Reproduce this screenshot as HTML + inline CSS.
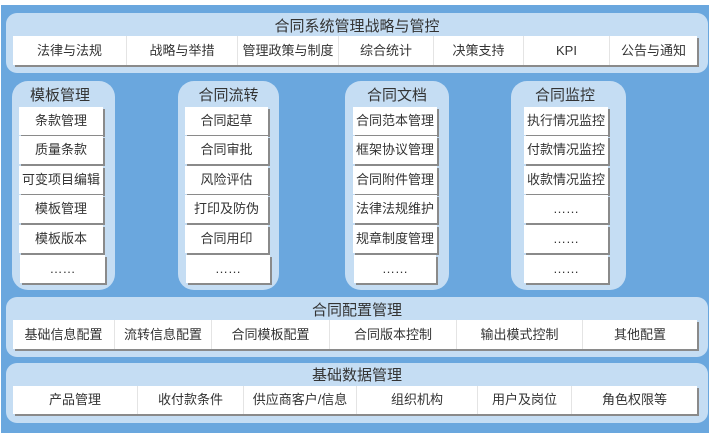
<!DOCTYPE html>
<html><head><meta charset="utf-8"><style>
body{margin:0;width:710px;height:433px;background:#fff;position:relative;overflow:hidden;font-family:"Liberation Sans","Noto Sans CJK SC",sans-serif;color:#333}
.bg{position:absolute;left:1px;top:5px;width:708px;height:428px;background:#6aa7de}
.p{position:absolute;background:#c5ddf3;border-radius:11px}
.t{position:absolute;text-align:center;font-size:15px;line-height:18px}
.row{position:absolute;display:flex;background:#fff;box-shadow:2px 2px 0 #8a8a8a}
.row div{flex:none;text-align:center;font-size:13px;border-right:1px solid #e4e4e4;box-sizing:border-box}
.row div:last-child{border-right:none}
.it{position:absolute;background:#fff;box-shadow:2px 2px 0 #8a8a8a;text-align:center;font-size:13px;height:28px;line-height:28px}
</style></head><body>
<div class="bg"></div>
<div class="p" style="left:6px;top:13px;width:702px;height:60px"></div>
<div class="t" style="left:6px;top:18px;width:702px">合同系统管理战略与管控</div>
<div class="row" style="left:13px;top:36px;width:684px;height:29px;line-height:29px">
<div style="width:114px">法律与法规</div><div style="width:111px">战略与举措</div><div style="width:101px">管理政策与制度</div><div style="width:95px">综合统计</div><div style="width:90px">决策支持</div><div style="width:86px">KPI</div><div style="width:87px">公告与通知</div></div>

<div class="p" style="left:12px;top:81px;width:103px;height:209px;border-radius:16px"></div>
<div class="t" style="left:12px;top:87px;width:96px">模板管理</div>
<div class="p" style="left:178px;top:81px;width:101px;height:209px;border-radius:16px"></div>
<div class="t" style="left:178px;top:87px;width:101px">合同流转</div>
<div class="p" style="left:345px;top:81px;width:104px;height:209px;border-radius:16px"></div>
<div class="t" style="left:345px;top:87px;width:104px">合同文档</div>
<div class="p" style="left:511px;top:81px;width:115px;height:209px;border-radius:16px"></div>
<div class="t" style="left:511px;top:87px;width:108px">合同监控</div>

<div class="it" style="left:19px;top:107px;width:84px">条款管理</div>
<div class="it" style="left:19px;top:136px;width:84px">质量条款</div>
<div class="it" style="left:19px;top:166px;width:84px">可变项目编辑</div>
<div class="it" style="left:19px;top:195px;width:84px">模板管理</div>
<div class="it" style="left:19px;top:225px;width:84px">模板版本</div>
<div class="it" style="left:20px;top:255px;width:85px">……</div>

<div class="it" style="left:185px;top:107px;width:83px">合同起草</div>
<div class="it" style="left:185px;top:136px;width:83px">合同审批</div>
<div class="it" style="left:185px;top:166px;width:83px">风险评估</div>
<div class="it" style="left:185px;top:195px;width:83px">打印及防伪</div>
<div class="it" style="left:185px;top:225px;width:83px">合同用印</div>
<div class="it" style="left:186px;top:255px;width:84px">……</div>

<div class="it" style="left:353px;top:107px;width:84px">合同范本管理</div>
<div class="it" style="left:353px;top:136px;width:84px">框架协议管理</div>
<div class="it" style="left:353px;top:166px;width:84px">合同附件管理</div>
<div class="it" style="left:353px;top:195px;width:84px">法律法规维护</div>
<div class="it" style="left:353px;top:225px;width:84px">规章制度管理</div>
<div class="it" style="left:354px;top:255px;width:82px">……</div>

<div class="it" style="left:524px;top:107px;width:84px">执行情况监控</div>
<div class="it" style="left:524px;top:136px;width:84px">付款情况监控</div>
<div class="it" style="left:524px;top:166px;width:84px">收款情况监控</div>
<div class="it" style="left:524px;top:195px;width:84px">……</div>
<div class="it" style="left:524px;top:225px;width:84px">……</div>
<div class="it" style="left:524px;top:255px;width:84px">……</div>

<div class="p" style="left:6px;top:297px;width:702px;height:60px"></div>
<div class="t" style="left:6px;top:302px;width:702px">合同配置管理</div>
<div class="row" style="left:13px;top:320px;width:684px;height:29px;line-height:29px">
<div style="width:102px">基础信息配置</div><div style="width:97px">流转信息配置</div><div style="width:118px">合同模板配置</div><div style="width:127px">合同版本控制</div><div style="width:126px">输出模式控制</div><div style="width:114px">其他配置</div></div>

<div class="p" style="left:6px;top:363px;width:702px;height:60px"></div>
<div class="t" style="left:6px;top:367px;width:702px">基础数据管理</div>
<div class="row" style="left:13px;top:386px;width:684px;height:28px;line-height:28px">
<div style="width:125px">产品管理</div><div style="width:106px">收付款条件</div><div style="width:113px">供应商客户/信息</div><div style="width:121px">组织机构</div><div style="width:94px">用户及岗位</div><div style="width:125px">角色权限等</div></div>
</body></html>
